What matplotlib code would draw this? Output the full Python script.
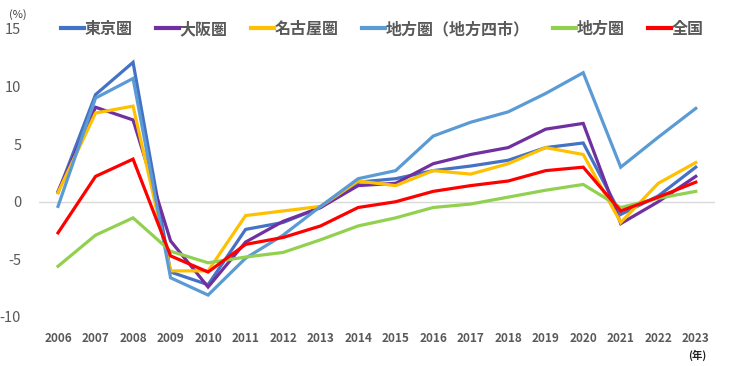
import matplotlib.pyplot as plt

plt.rcParams['font.family'] = ['Noto Sans CJK JP', 'DejaVu Sans']

years = list(range(2006, 2024))
tokyo = [0.8, 9.3, 12.1, -6.1, -7.2, -2.4, -1.8, -0.5, 1.7, 2.0, 2.7, 3.1, 3.6, 4.7, 5.1, -1.1, 0.5, 3.0]
osaka = [0.9, 8.2, 7.1, -3.4, -7.4, -3.5, -1.7, -0.5, 1.4, 1.6, 3.3, 4.1, 4.7, 6.3, 6.8, -1.9, 0.0, 2.2]
nagoya = [0.8, 7.7, 8.3, -6.0, -6.0, -1.2, -0.8, -0.4, 1.8, 1.4, 2.7, 2.4, 3.3, 4.7, 4.1, -1.8, 1.6, 3.4]
yonshi = [-0.4, 9.0, 10.7, -6.6, -8.1, -4.9, -2.9, -0.4, 2.0, 2.7, 5.7, 6.9, 7.8, 9.4, 11.2, 3.0, 5.6, 8.1]
chiho = [-5.6, -2.9, -1.4, -4.3, -5.3, -4.8, -4.4, -3.3, -2.1, -1.4, -0.5, -0.2, 0.4, 1.0, 1.5, -0.5, 0.3, 0.9]
zenkoku = [-2.7, 2.2, 3.7, -4.7, -6.1, -3.7, -3.1, -2.1, -0.5, 0.0, 0.9, 1.4, 1.8, 2.7, 3.0, -0.8, 0.4, 1.7]

series = [
    ("東京圏", tokyo, "#4472C4"),
    ("大阪圏", osaka, "#7030A0"),
    ("名古屋圏", nagoya, "#FFC000"),
    ("地方圏（地方四市）", yonshi, "#5B9BD5"),
    ("地方圏", chiho, "#92D050"),
    ("全国", zenkoku, "#FF0000"),
]

fig = plt.figure(figsize=(7.3, 3.66), dpi=100)
ax = fig.add_axes([0.0538, 0.134, 0.925, 0.787])

for label, vals, color in series:
    ax.plot(years, vals, color=color, lw=2.3, label=label, solid_joinstyle="miter")

ax.axhline(0, color="#D9D9D9", lw=1, zorder=0)
ax.set_xlim(2005.5, 2023.5)
ax.set_ylim(-10, 15)
ax.set_yticks([-10, -5, 0, 5, 10, 15])
ax.set_xticks(years)
ax.set_xticklabels([str(y) for y in years], fontsize=8.5, fontweight="bold", color="#595959")
ax.set_yticklabels([str(v) for v in [-10, -5, 0, 5, 10, 15]], fontsize=10.5, color="#595959")
ax.tick_params(length=0)
ax.tick_params(axis="x", pad=11)
ax.tick_params(axis="y", pad=13)
for s in ax.spines.values():
    s.set_visible(False)

fig.text(0.012, 0.975, "(%)", fontsize=8, color="#404040", va="top")
fig.text(0.942, 0.015, "(年)", fontsize=7.5, color="#202020", va="bottom", fontweight="bold")

leg = fig.legend(loc="center left", bbox_to_anchor=(0.083, 0.921), ncol=6, frameon=False,
                 fontsize=11.5, handlelength=1.45, handletextpad=0.05, columnspacing=1.45,
                 borderpad=0, borderaxespad=0)
for t in leg.get_texts():
    t.set_color("#595959")
    t.set_fontweight("bold")
for h in leg.get_lines():
    h.set_linewidth(3)

fig.savefig("out.png", dpi=100)
